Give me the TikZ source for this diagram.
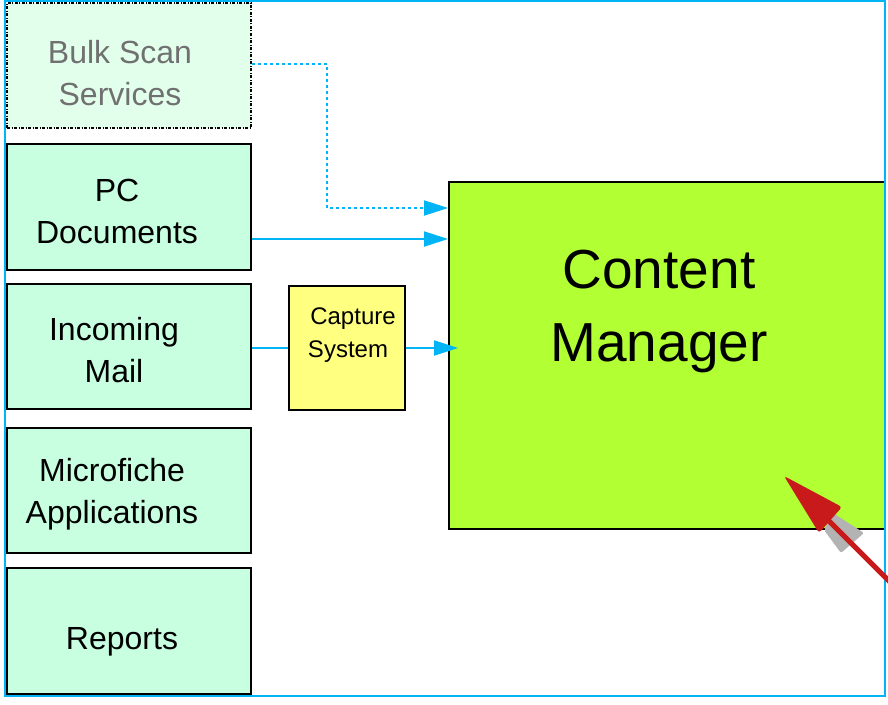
\documentclass[tikz,border=0pt]{standalone}
\usepackage{fontspec}
\setmainfont{Liberation Sans}
\usetikzlibrary{arrows.meta,calc}
\definecolor{frameblue}{HTML}{00B4F5}
\definecolor{mint}{HTML}{C8FFE0}
\definecolor{palemint}{HTML}{E2FFEC}
\definecolor{capyellow}{HTML}{FFFF80}
\definecolor{cmgreen}{HTML}{B2FF33}
\definecolor{redarrow}{HTML}{C81A1A}
\definecolor{shadowgray}{HTML}{B3B3B3}
\definecolor{graytext}{HTML}{707070}
\tikzset{
  srcbox/.style={draw=black, line width=1.8pt, fill=mint, minimum width=244pt, inner sep=0pt},
  bulkbox/.style={draw=black, line width=1.5pt, fill=palemint, minimum width=244pt, inner sep=0pt,
    dash pattern=on 3pt off 1.5pt on 1pt off 1.5pt},
  lbl/.style={align=center, inner sep=0pt, font=\fontsize{32}{42}\selectfont},
  flow/.style={draw=frameblue, line width=1.8pt, -{Triangle[length=24pt,width=15pt]}},
  dotflow/.style={flow, dash pattern=on 3pt off 3pt},
}
\begin{document}
\begin{tikzpicture}[x=1pt,y=-1pt]
\useasboundingbox (0,0) rectangle (888,704);
% boxes
\node[bulkbox, minimum height=125pt] (bulk) at (129,65.5) {};
\node[srcbox, minimum height=126pt] (pc) at (129,207) {};
\node[srcbox, minimum height=125pt] (mail) at (129,346.5) {};
\node[srcbox, minimum height=125pt] (micro) at (129,490.5) {};
\node[srcbox, minimum height=126pt] (rep) at (129,631) {};
\node[draw=black, line width=1.8pt, fill=capyellow, minimum width=116pt, minimum height=124pt, inner sep=0pt] (cap) at (347,348) {};
\node[draw=black, line width=1.8pt, fill=cmgreen, minimum width=436pt, minimum height=347pt, inner sep=0pt] (cm) at (667,355.5) {};
% labels
\node[lbl, text=graytext] (bulkt) at (120,73) {Bulk Scan\\Services};
\node[lbl] (pct) at (117,211.5) {PC\\Documents};
\node[lbl] (mailt) at (114,350) {Incoming\\Mail};
\node[lbl] (microt) at (112,494) {Microfiche\\Applications};
\node[lbl] (rept) at (122,642) {Reports};
\node[align=center, inner sep=0pt, font=\fontsize{24}{33}\selectfont] (capt) at (348,335) {\hspace*{10pt}Capture\\System};
\node[align=center, inner sep=0pt, font=\fontsize{55}{73}\selectfont] (cmt) at (659,311) {Content\\Manager};
% connectors
\coordinate (bend1) at (327,64);
\coordinate (bend2) at (327,208);
\draw[dotflow] (bulk.east |- bend1) -- (bend1) -- (bend2) -- (bend2 -| cm.west);
\draw[flow] (pc.east |- 0,239) -- (cm.west |- 0,239);
\draw[draw=frameblue, line width=1.8pt] (mail.east |- cap.west) -- (cap.west);
\draw[flow] (cap.east) -- ($(cap.east -| cm.west)+(10,0)$);
% frame
\draw[frameblue, line width=2.5pt] (5,1) rectangle (885,696);
% pointer arrow
\fill[shadowgray, rounded corners=2pt] (833,513) -- (864,533) -- (841,553) -- (824,530) -- cycle;
\draw[redarrow, line width=5pt] (826,518) -- (895,587);
\fill[redarrow, rounded corners=3pt] (784,476) -- (842,507) -- (819,533) -- cycle;
\end{tikzpicture}
\end{document}
